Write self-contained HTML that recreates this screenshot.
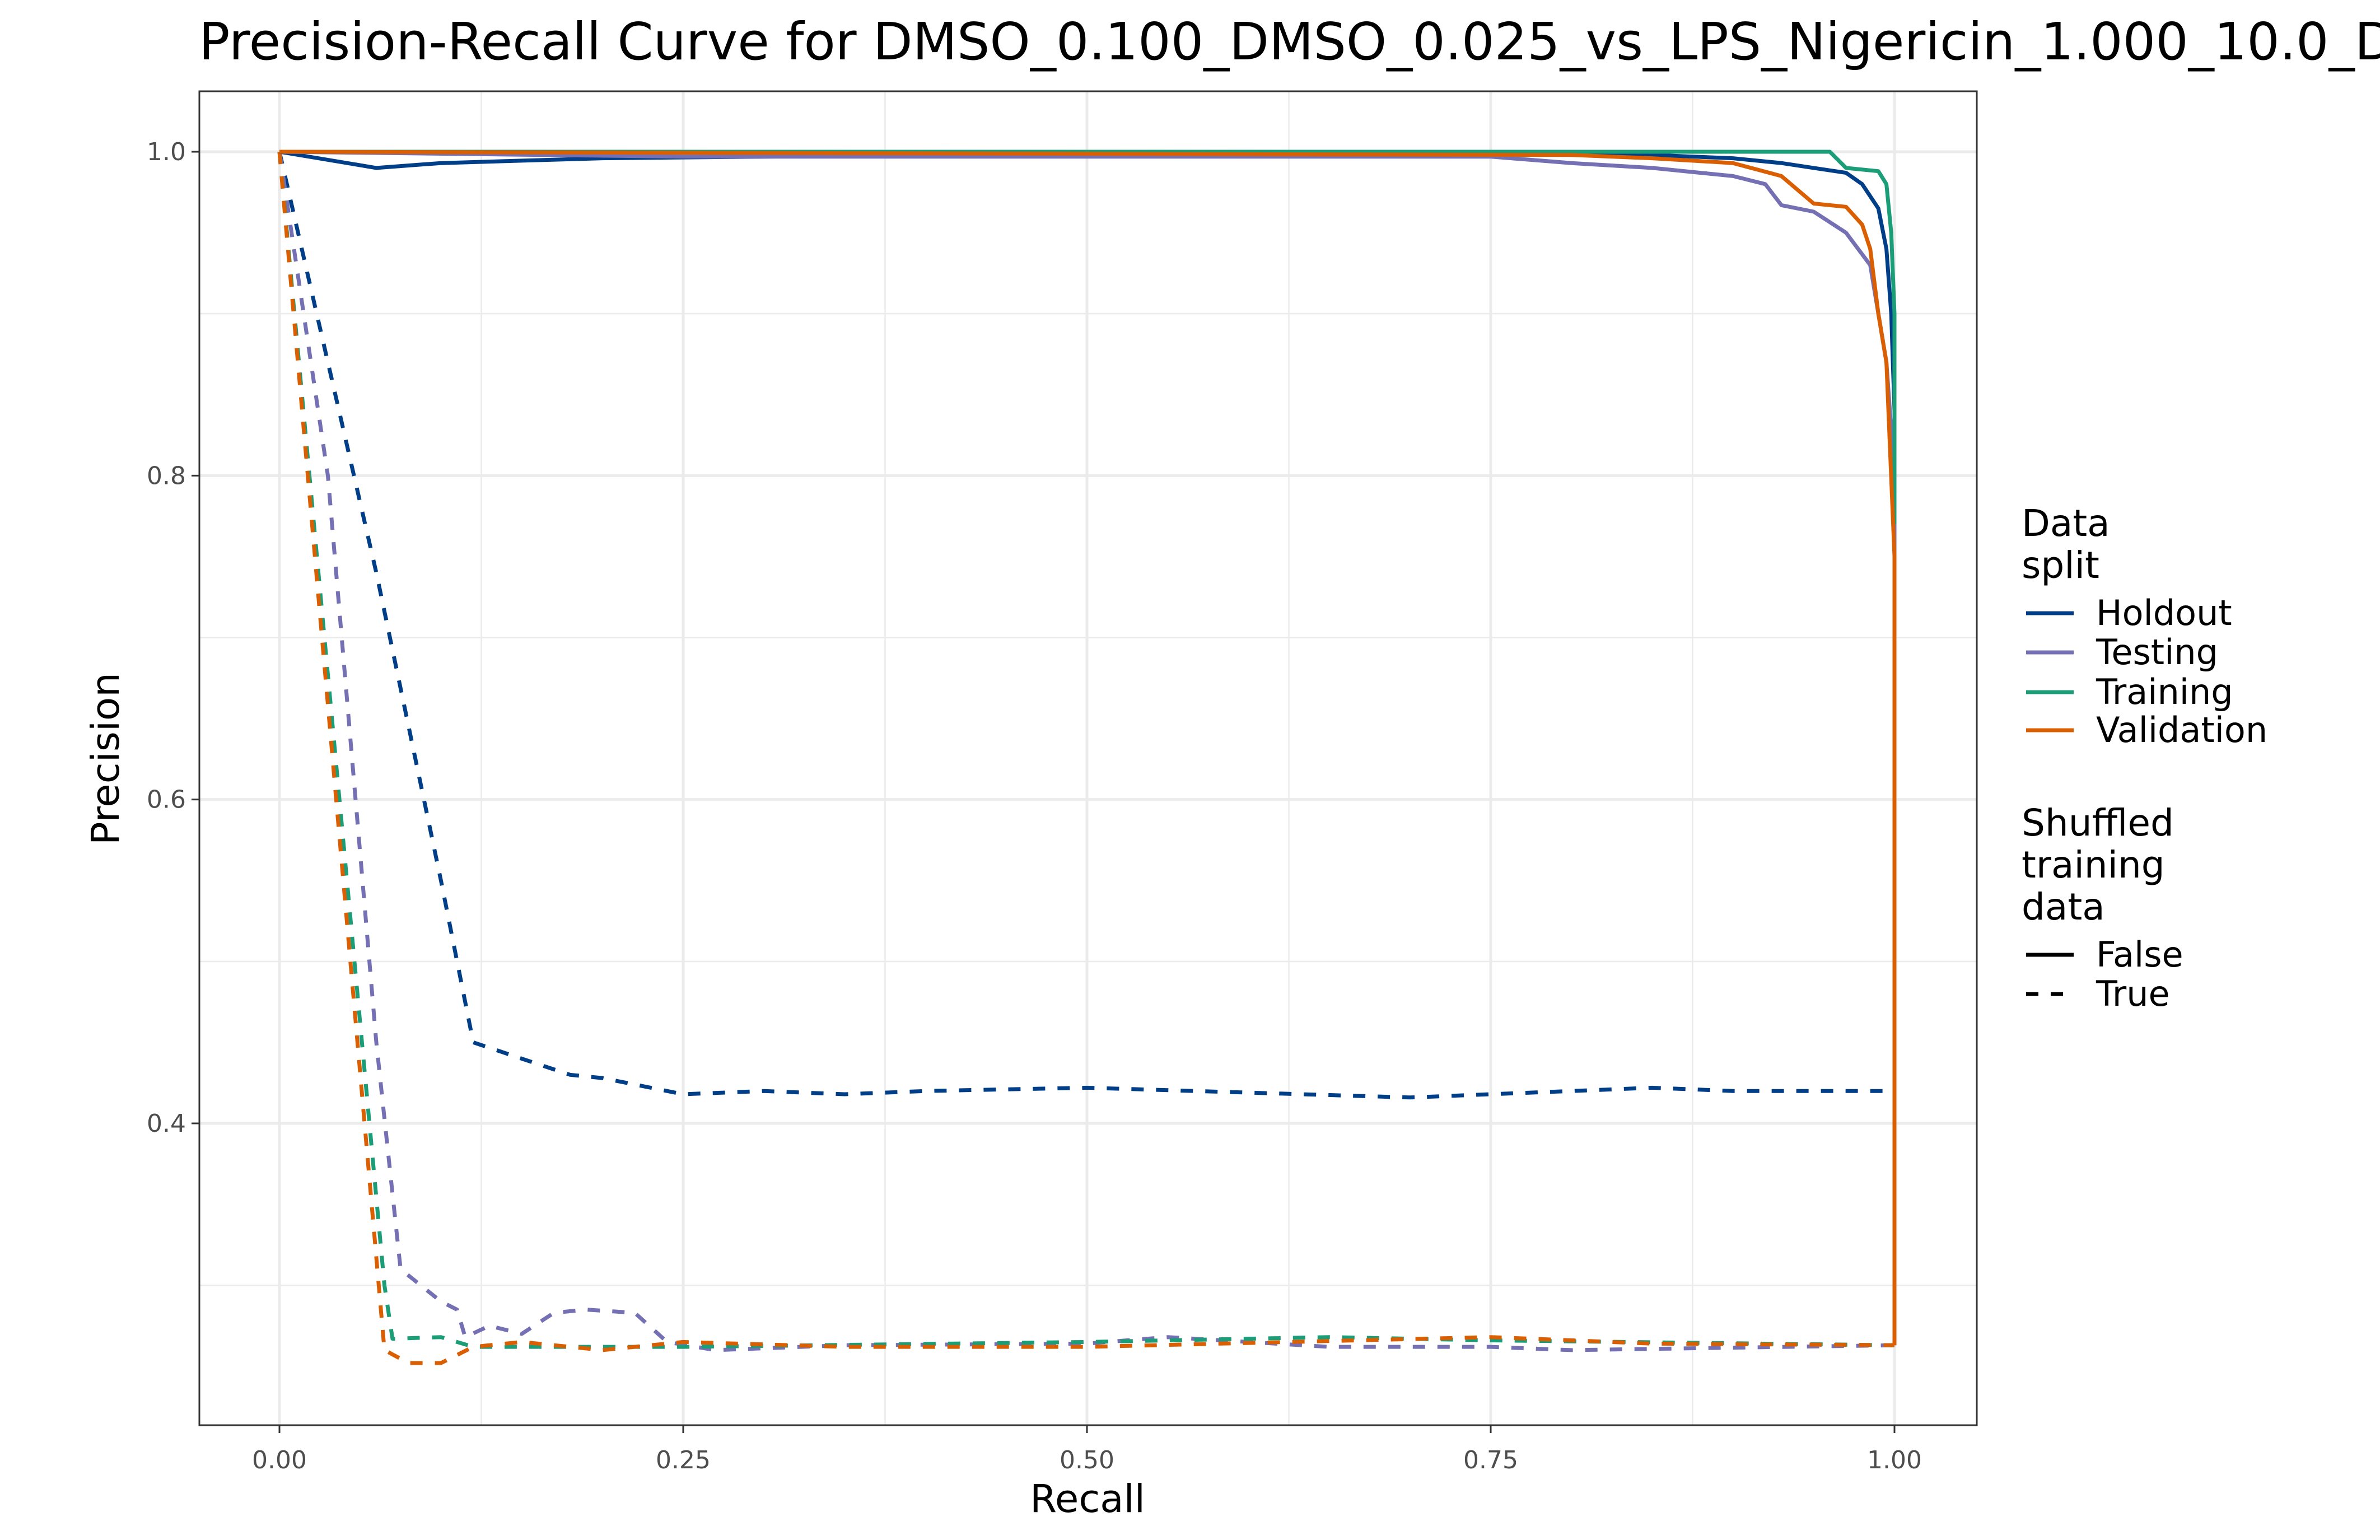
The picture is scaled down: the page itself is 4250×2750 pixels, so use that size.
<!DOCTYPE html>
<html><head><meta charset="utf-8"><style>
html,body{margin:0;padding:0;background:#fff}
svg{display:block;font-family:"DejaVu Sans","Liberation Sans",sans-serif}
</style></head><body>
<svg id="chart" width="4250" height="2750" viewBox="0 0 4250 2750" xmlns="http://www.w3.org/2000/svg">
<rect width="4250" height="2750" fill="#fff"/>
<text x="355" y="106" font-size="92" fill="#000">Precision-Recall Curve for DMSO_0.100_DMSO_0.025_vs_LPS_Nigericin_1.000_10.0_DMSO_0.025</text>
<g id="grid"></g>
<g id="series"></g>
<rect x="356" y="163" width="3174" height="2382" fill="none" stroke="#333" stroke-width="3"/>
<g id="axes"></g>
<text x="1942" y="2700" font-size="69" text-anchor="middle">Recall</text>
<text transform="translate(212,1355) rotate(-90)" font-size="69" text-anchor="middle">Precision</text>
<g id="legend"></g>
</svg>
<script>
const xTicks=[0,0.25,0.5,0.75,1];
const xTickLabels=["0.00","0.25","0.50","0.75","1.00"];
const yTicks=[0.4,0.6,0.8,1.0];
const yTickLabels=["0.4","0.6","0.8","1.0"];
const seriesNames=["Holdout","Testing","Training","Validation"];
const seriesColors=["#003f88","#7570b3","#1b9e77","#d95f02"];
const holdoutR=[0,0.06,0.1,0.2,0.5,0.85,0.9,0.93,0.95,0.97,0.98,0.99,0.995,0.998,1.0,1.0];
const holdoutP=[1,0.990,0.993,0.996,0.999,0.998,0.996,0.993,0.990,0.987,0.980,0.965,0.94,0.90,0.84,0.42];
const testingR=[0,0.25,0.52,0.75,0.8,0.85,0.88,0.9,0.92,0.93,0.95,0.97,0.985,0.99,0.995,1.0,1.0];
const testingP=[1,0.997,0.997,0.997,0.993,0.99,0.987,0.985,0.98,0.967,0.963,0.95,0.93,0.90,0.87,0.80,0.263];
const trainingR=[0,0.96,0.97,0.99,0.995,0.998,1.0,1.0];
const trainingP=[1,1,0.99,0.988,0.98,0.95,0.90,0.77];
const validationR=[0,0.8,0.85,0.9,0.93,0.95,0.97,0.98,0.985,0.99,0.995,1.0,1.0];
const validationP=[1,0.998,0.996,0.993,0.985,0.968,0.966,0.955,0.94,0.90,0.87,0.75,0.263];
const holdoutShufR=[0,0.06,0.1,0.12,0.15,0.18,0.2,0.25,0.3,0.35,0.4,0.5,0.6,0.7,0.8,0.85,0.9,1.0];
const holdoutShufP=[1,0.74,0.55,0.45,0.44,0.43,0.428,0.418,0.42,0.418,0.42,0.422,0.419,0.416,0.42,0.422,0.42,0.42];
const testingShufR=[0,0.03,0.06,0.075,0.1,0.11,0.115,0.13,0.15,0.17,0.19,0.22,0.24,0.27,0.35,0.5,0.55,0.65,0.75,0.8,1.0];
const testingShufP=[1,0.8,0.45,0.31,0.29,0.285,0.268,0.275,0.27,0.283,0.285,0.283,0.265,0.26,0.263,0.264,0.268,0.262,0.262,0.26,0.263];
const trainingShufR=[0,0.065,0.07,0.1,0.12,0.15,0.25,0.5,0.65,0.75,1.0];
const trainingShufP=[1,0.3,0.267,0.268,0.262,0.262,0.262,0.265,0.268,0.266,0.263];
const validationShufR=[0,0.065,0.08,0.1,0.12,0.15,0.2,0.25,0.35,0.5,0.75,0.85,1.0];
const validationShufP=[1,0.26,0.252,0.252,0.262,0.265,0.26,0.265,0.262,0.262,0.268,0.264,0.263];

const NS="http://www.w3.org/2000/svg";
const X0=499,X1=3383,YT=271,PX=2891.7;
function xs(r){return X0+r*(X1-X0);}
function ys(p){return YT+(1-p)*PX;}
function mk(tag,attrs,parent){const e=document.createElementNS(NS,tag);for(const k in attrs)e.setAttribute(k,attrs[k]);parent.appendChild(e);return e;}
const grid=document.getElementById('grid'),axes=document.getElementById('axes'),ser=document.getElementById('series'),leg=document.getElementById('legend');
[0.125,0.375,0.625,0.875].forEach(r=>{const l=mk('line',{x1:xs(r),x2:xs(r),y1:163,y2:2545,stroke:'#ebebeb','stroke-width':2.5},grid);

});
[0.3,0.5,0.7,0.9].forEach(p=>{const l=mk('line',{x1:356,x2:3530,y1:ys(p),y2:ys(p),stroke:'#ebebeb','stroke-width':2.5},grid);

});
xTicks.forEach((r,i)=>{
 const l=mk('line',{x1:xs(r),x2:xs(r),y1:163,y2:2545,stroke:'#ebebeb','stroke-width':5},grid);
 
 
 const t=mk('line',{x1:xs(r),x2:xs(r),y1:2545,y2:2559,stroke:'#333','stroke-width':3},axes);
 
 
 const tx=mk('text',{x:xs(r),y:2622,'font-size':44,'text-anchor':'middle',fill:'#4d4d4d'},axes);tx.textContent=xTickLabels[i];
 
 
});
yTicks.forEach((p,i)=>{
 const l=mk('line',{x1:356,x2:3530,y1:ys(p),y2:ys(p),stroke:'#ebebeb','stroke-width':5},grid);
 
 
 const t=mk('line',{x1:342,x2:356,y1:ys(p),y2:ys(p),stroke:'#333','stroke-width':3},axes);
 
 
 const tx=mk('text',{x:332,y:ys(p)+15,'font-size':44,'text-anchor':'end',fill:'#4d4d4d'},axes);tx.textContent=yTickLabels[i];
 
 
});
function draw(R,P,color,dashed,name){
 const d=R.map((r,i)=>(i?'L':'M')+xs(r).toFixed(1)+' '+ys(P[i]).toFixed(1)).join(' ');
 const a={d:d,fill:'none',stroke:color,'stroke-width':7,'stroke-linejoin':'round'};
 if(dashed)a['stroke-dasharray']='22 22';
 const e=mk('path',a,ser);
 
 
}
draw(holdoutShufR,holdoutShufP,seriesColors[0],true,'holdout-shuffled-line');
draw(testingShufR,testingShufP,seriesColors[1],true,'testing-shuffled-line');
draw(trainingShufR,trainingShufP,seriesColors[2],true,'training-shuffled-line');
draw(validationShufR,validationShufP,seriesColors[3],true,'validation-shuffled-line');
draw(holdoutR,holdoutP,seriesColors[0],false,'holdout-line');
draw(testingR,testingP,seriesColors[1],false,'testing-line');
draw(trainingR,trainingP,seriesColors[2],false,'training-line');
draw(validationR,validationP,seriesColors[3],false,'validation-line');
function txt(x,y,s,size,name){const t=mk('text',{x:x,y:y,'font-size':size,fill:'#000'},leg);t.textContent=s;
 
 }
txt(3610,957,'Data',66,'legend-title-data-split');
txt(3610,1032,'split',66,'legend-title-data-split');
const ly=[1095,1165,1236,1304];
seriesNames.forEach((n,i)=>{
 const l=mk('line',{x1:3618,x2:3703,y1:ly[i],y2:ly[i],stroke:seriesColors[i],'stroke-width':7},leg);
 
 
 txt(3743,ly[i]+21,n,62,'legend-entry-'+n.toLowerCase());
});
txt(3610,1492,'Shuffled',66,'legend-title-shuffled');
txt(3610,1567,'training',66,'legend-title-shuffled');
txt(3610,1642,'data',66,'legend-title-shuffled');
const l1=mk('line',{x1:3618,x2:3703,y1:1705,y2:1705,stroke:'#000','stroke-width':7},leg);


txt(3743,1726,'False',62,'legend-entry-false');
const l2=mk('line',{x1:3618,x2:3703,y1:1775,y2:1775,stroke:'#000','stroke-width':7,'stroke-dasharray':'22 22'},leg);


txt(3743,1796,'True',62,'legend-entry-true');
</script>
</body></html>
